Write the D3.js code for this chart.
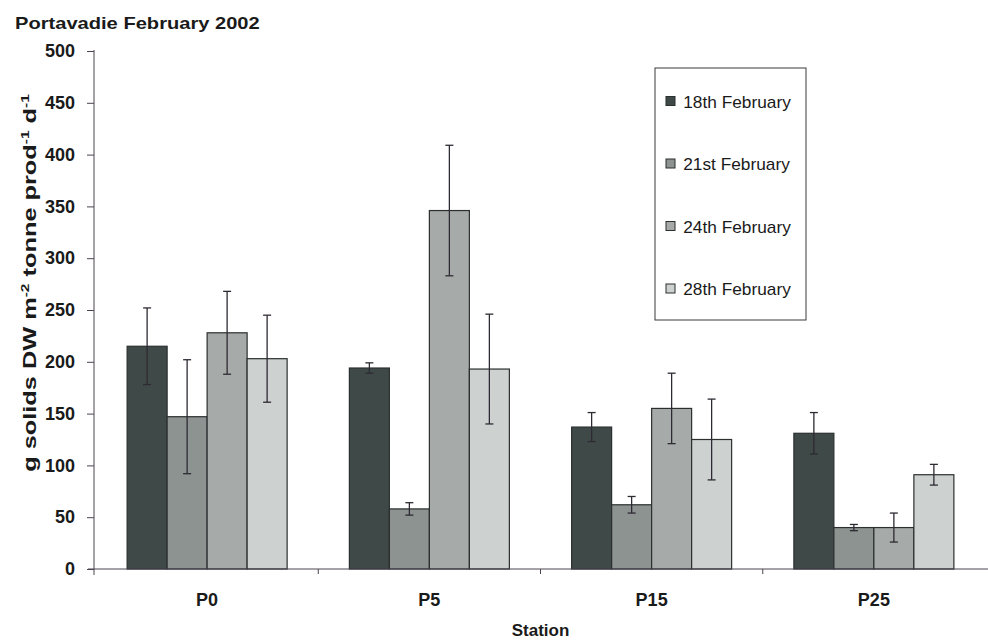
<!DOCTYPE html>
<html>
<head>
<meta charset="utf-8">
<script src="https://cdn.jsdelivr.net/npm/d3@7"></script>
<style>
	body { margin: 0; background: #fff; }
	text { font-family: "Liberation Sans", Arial, sans-serif; fill: #1a1a1a; }
</style>
</head>
<body>
<div id="svg-container"></div>
<script>
const stations = ["P0", "P5", "P15", "P25"];
const dates = ["18th February", "21st February", "24th February", "28th February"];

// means, one array per sampling date (order follows stations)
const feb18 = [215, 194, 137, 131];
const feb21 = [147, 58, 62, 40];
const feb24 = [228, 346, 155, 40];
const feb28 = [203, 193, 125, 91];

// error bar half lengths
const err18 = [37, 5, 14, 20];
const err21 = [55, 6, 8, 3];
const err24 = [40, 63, 34, 14];
const err28 = [42, 53, 39, 10];

const yTicks = [0, 50, 100, 150, 200, 250, 300, 350, 400, 450, 500];
const fills = ["#3f4a48", "#8d9391", "#a6aba9", "#cdd1d0"];

const width = 988;
const height = 641;

const svg = d3.select("#svg-container")
	.append("svg")
	.attr("width", width)
	.attr("height", height);

const means = [feb18, feb21, feb24, feb28];
const errs = [err18, err21, err24, err28];
const rows = [];
dates.forEach((date, i) => {
	stations.forEach((st, j) => {
		rows.push({ date, station: st, value: means[i][j], err: errs[i][j], color: fills[i] });
	});
});

const yScale = d3.scaleLinear().domain([0, 500]).range([569, 51]);
const xScale = d3.scaleBand().domain(stations).range([96, 985]);
const groupW = 160;
const inner = d3.scaleBand().domain(dates).range([0, groupW]);
const offset = (xScale.bandwidth() - groupW) / 2;

// the scanned original has slightly wide lettering, stretch text to match
function stretchTo(sel, target) {
	const w = sel.node().getBBox().width;
	return target / w;
}

// title
const title = svg.append("text")
	.style("font-size", "17px")
	.style("font-weight", "bold")
	.text("Portavadie February 2002");
title.attr("transform", `translate(15,29) scale(${stretchTo(title, 245)},1)`);

// bars
svg.append("g")
	.selectAll("rect")
	.data(rows)
	.join("rect")
	.attr("x", (d) => xScale(d.station) + offset + inner(d.date))
	.attr("y", (d) => yScale(d.value))
	.attr("width", inner.bandwidth())
	.attr("height", (d) => yScale(0) - yScale(d.value))
	.attr("fill", (d) => d.color)
	.attr("stroke", "#2b2f2f")
	.attr("stroke-width", 1.2);

// error bars
const eb = svg.append("g")
	.selectAll("g")
	.data(rows)
	.join("g")
	.attr("transform", (d) => `translate(${xScale(d.station) + offset + inner(d.date) + inner.bandwidth() / 2},0)`)
	.attr("stroke", "#2e2a33")
	.attr("stroke-width", 1.3);

eb.append("line")
	.attr("y1", (d) => yScale(d.value + d.err))
	.attr("y2", (d) => yScale(d.value - d.err));
eb.append("line")
	.attr("x1", -4).attr("x2", 4)
	.attr("y1", (d) => yScale(d.value + d.err))
	.attr("y2", (d) => yScale(d.value + d.err));
eb.append("line")
	.attr("x1", -4).attr("x2", 4)
	.attr("y1", (d) => yScale(d.value - d.err))
	.attr("y2", (d) => yScale(d.value - d.err));

// y axis
const yAxis = d3.axisLeft(yScale).tickValues(yTicks).tickSize(7).tickSizeOuter(0).tickPadding(12);
const gy = svg.append("g")
	.attr("transform", "translate(94,0)")
	.call(yAxis);
gy.select(".domain").attr("stroke", "#4a4450").attr("d", "M0,50V575");
gy.selectAll(".tick line").attr("stroke", "#4a4450");
gy.selectAll(".tick text")
	.style("font-size", "18px")
	.style("font-weight", "bold")
	.style("font-family", "Liberation Sans, Arial, sans-serif")
	.attr("fill", "#1a1a1a");

// x axis
const xAxis = d3.axisBottom(xScale).tickSize(0).tickSizeOuter(0).tickPadding(24);
const gx = svg.append("g")
	.attr("transform", `translate(0,${yScale(0)})`)
	.call(xAxis);
gx.select(".domain").attr("stroke", "#4a4450").attr("d", "M88,0H988");
gx.selectAll(".tick text")
	.style("font-size", "18px")
	.style("font-weight", "bold")
	.style("font-family", "Liberation Sans, Arial, sans-serif")
	.attr("fill", "#1a1a1a");

// boundary ticks between stations
gx.selectAll("line.sep")
	.data(stations.slice(1))
	.join("line")
	.attr("class", "sep")
	.attr("x1", (d) => xScale(d))
	.attr("x2", (d) => xScale(d))
	.attr("y1", 0)
	.attr("y2", 5)
	.attr("stroke", "#4a4450");

// axis titles
svg.append("text")
	.attr("x", (xScale.range()[0] + xScale.range()[1]) / 2)
	.attr("y", 636)
	.attr("text-anchor", "middle")
	.style("font-size", "17px")
	.style("font-weight", "bold")
	.text("Station");

const yt = svg.append("text")
	.attr("text-anchor", "middle")
	.style("font-size", "18px")
	.style("font-weight", "bold");
yt.append("tspan").text("g solids DW m");
yt.append("tspan").attr("dy", -7).style("font-size", "11px").text("-2");
yt.append("tspan").attr("dy", 7).text(" tonne prod");
yt.append("tspan").attr("dy", -7).style("font-size", "11px").text("-1");
yt.append("tspan").attr("dy", 7).text(" d");
yt.append("tspan").attr("dy", -7).style("font-size", "11px").text("-1");
yt.attr("transform", `translate(36,283) rotate(-90) scale(${stretchTo(yt, 378)},1)`);

// legend
const legend = svg.append("g").attr("transform", "translate(655,68)");
legend.append("rect")
	.attr("width", 151)
	.attr("height", 252)
	.attr("fill", "#fff")
	.attr("stroke", "#3a3a3a")
	.attr("stroke-width", 1);

const li = legend.selectAll("g.item")
	.data(dates)
	.join("g")
	.attr("class", "item")
	.attr("transform", (d, i) => `translate(11,${33.5 + i * 62.5})`);
li.append("rect")
	.attr("x", 0)
	.attr("y", -5)
	.attr("width", 9)
	.attr("height", 9)
	.attr("fill", (d, i) => fills[i])
	.attr("stroke", "#2b2f2f");
li.append("text")
	.attr("x", 16)
	.attr("y", 6)
	.style("font-size", "16px")
	.attr("transform", "scale(1.08,1)")
	.text((d) => d);
</script>
</body>
</html>
